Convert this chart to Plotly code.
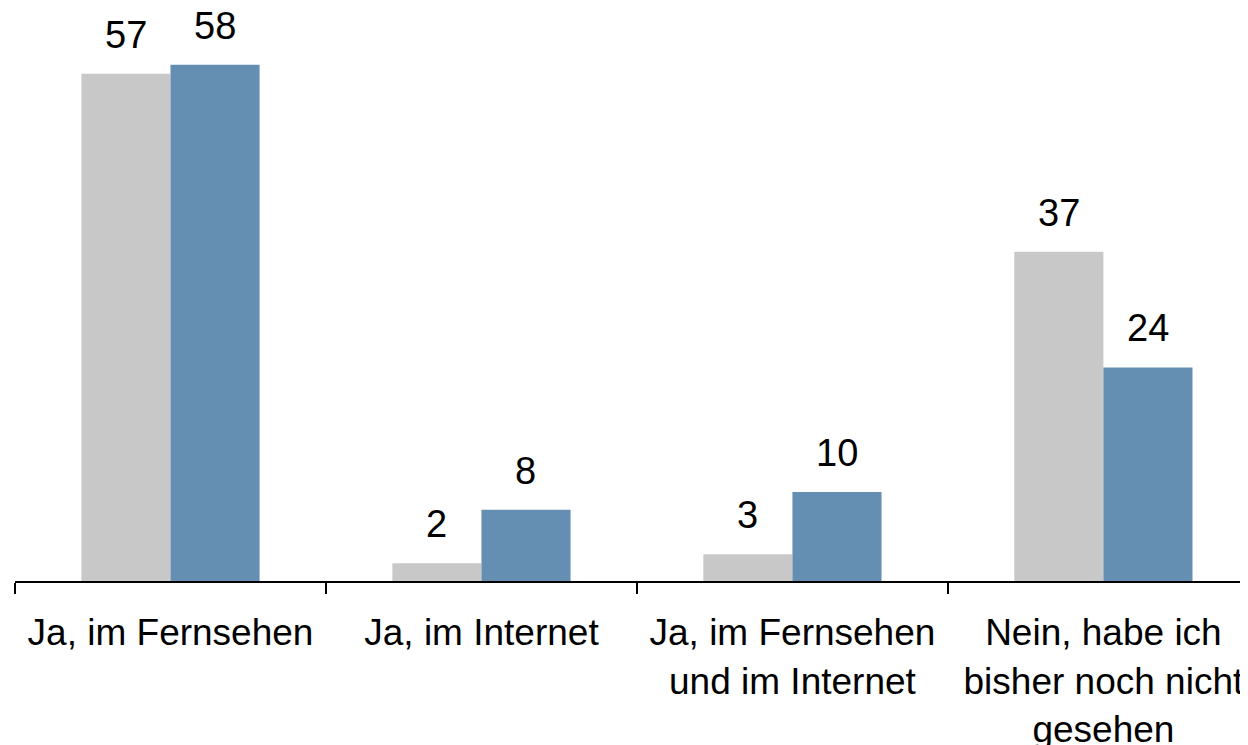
import plotly.graph_objects as go

categories = ["Ja, im Fernsehen", "Ja, im Internet",
              "Ja, im Fernsehen<br>und im Internet",
              "Nein, habe ich<br>bisher noch nicht<br>gesehen"]
series_names = ["Gruppe A", "Gruppe B"]
values_a = [57, 2, 3, 37]
values_b = [58, 8, 10, 24]
colors = ["#c8c8c8", "#648fb3"]

FONT = "Liberation Sans, Arial, sans-serif"
fig = go.Figure()
for name, vals, col in zip(series_names, [values_a, values_b], colors):
    fig.add_trace(go.Bar(x=categories, y=vals, name=name,
                         marker=dict(color=col, line=dict(width=0)),
                         showlegend=False))

# value labels above the bars
off = 0.143
for i in range(len(categories)):
    for j, vals in enumerate([values_a, values_b]):
        fig.add_annotation(x=i + (-off if j == 0 else off), y=vals[i],
                           text=str(vals[i]), showarrow=False,
                           yanchor="bottom", yshift=16,
                           font=dict(family=FONT, size=38, color="black"))

# page body has an 8px margin: figure is sized/offset to compensate
fig.update_layout(
    width=1240, height=737,
    margin=dict(l=7, r=0, t=0, b=164),
    paper_bgcolor="white", plot_bgcolor="white",
    barmode="group", bargap=0.427, bargroupgap=0,
    font=dict(family=FONT, size=38, color="black"),
    xaxis=dict(type="category", range=[-0.5, 3.465],
               categoryorder="array", categoryarray=categories,
               showline=True, linecolor="black", linewidth=2,
               ticks="outside", tickson="boundaries", ticklen=11,
               tickwidth=2, tickcolor="black",
               tickfont=dict(family=FONT, size=37, color="black"),
               showgrid=False, zeroline=False, automargin=False,
               ticklabelstandoff=18),
    yaxis=dict(range=[0, 64.38], visible=False, showgrid=False,
               zeroline=False, automargin=False),
)
fig.write_html("out.html")
